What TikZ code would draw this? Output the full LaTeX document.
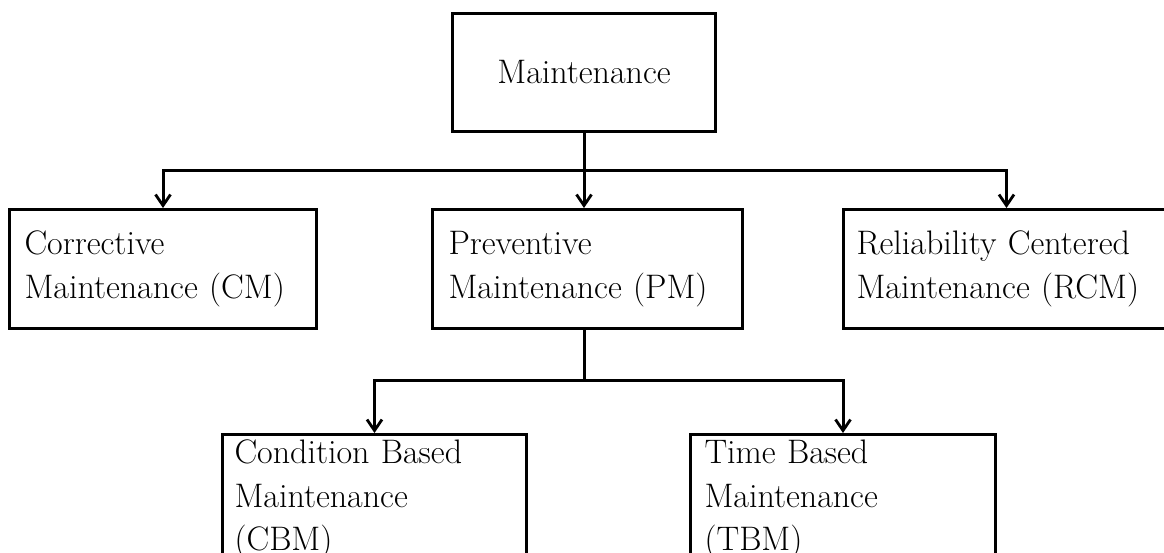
\documentclass[tikz,border=0pt]{standalone}
\usepackage{fontspec}
\usetikzlibrary{arrows.meta}

\tikzset{
  box/.style={draw=black, line width=3pt, fill=white, anchor=north west,
    align=left, font=\fontsize{34}{43.5}\selectfont\addfontfeatures{FakeBold=0.6},
    inner ysep=0pt},
  link/.style={line width=3pt, line join=miter},
  arrowlink/.style={link, -{Straight Barb[length=11pt,width=15pt,line width=2.8pt]}},
}

\begin{document}
\begin{tikzpicture}[x=1pt, y=-1pt]
  \useasboundingbox (0,0) rectangle (1164,552);
  \clip (0,0) rectangle (1164,552);

  % root
  \node[box, minimum width=263pt, minimum height=118pt, align=center, text width=240pt, inner xsep=0pt]
    (root) at (451,12) {Maintenance};

  % second level
  \node[box, minimum width=307pt, minimum height=119pt, text width=277pt, inner xsep=15pt]
    (cm) at (8,208) {Corrective\\Maintenance (CM)};
  \node[box, minimum width=310pt, minimum height=119pt, text width=278pt, inner xsep=16pt]
    (pm) at (431,208) {Preventive\\Maintenance (PM)};
  \node[box, minimum width=326pt, minimum height=119pt, text width=300pt, inner xsep=13pt]
    (rcm) at (842,208) {Reliability Centered\\Maintenance (RCM)};

  % third level (boxes run past the lower edge)
  \node[box, text width=280pt, inner xsep=12pt]
    (cbm) at (221,433)
    {\rule{0pt}{29pt}Condition Based\\Maintenance\\(CBM)};
  \node[box, text width=277pt, inner xsep=14pt]
    (tbm) at (689,433)
    {\rule{0pt}{29pt}Time Based\\Maintenance\\(TBM)};

  % root to second level
  \coordinate (j1) at (root.south |- 0,170);
  \draw[link] (root.south) -- (j1);
  \draw[arrowlink] (j1) -| (cm.north);
  \draw[arrowlink] (j1) -| (rcm.north);
  \draw[arrowlink] (j1) -- (j1 |- pm.north);

  % preventive to third level
  \coordinate (p0) at (root.south |- pm.south);
  \coordinate (j2) at (p0 |- 0,380);
  \draw[link] (p0) -- (j2);
  \draw[arrowlink] (j2) -| (cbm.north);
  \draw[arrowlink] (j2) -| (tbm.north);
\end{tikzpicture}
\end{document}
